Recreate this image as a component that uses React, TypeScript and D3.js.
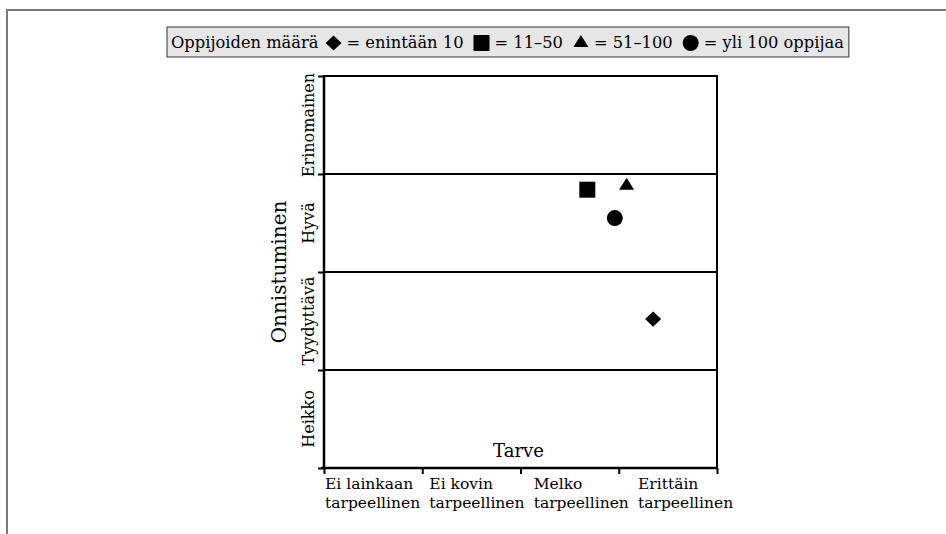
import React, { useEffect, useRef } from "react";
import * as d3 from "d3";

const yCategories = ["Heikko", "Tyydyttävä", "Hyvä", "Erinomainen"];
const xCategoriesLine1 = ["Ei lainkaan", "Ei kovin", "Melko", "Erittäin"];
const xCategoriesLine2 = ["tarpeellinen", "tarpeellinen", "tarpeellinen", "tarpeellinen"];
const groupNames = ["enintään 10", "11–50", "51–100", "yli 100 oppijaa"];
const groupSymbols = ["diamond", "square", "triangle", "circle"];
const needValues = [3.35, 2.68, 3.08, 2.96];
const successValues = [1.52, 2.84, 2.88, 2.55];
const legendTitle = "Oppijoiden määrä";
const xTitle = "Tarve";
const yTitle = "Onnistuminen";

const W = 946;
const H = 534;
const FONT = "'DejaVu Serif', serif";

function symbolPath(kind: string, size: number): string {
  if (kind === "diamond") {
    const w = size / 2, h = size / 2 * 0.95;
    return `M0,${-h}L${w},0L0,${h}L${-w},0Z`;
  }
  if (kind === "square") {
    const s = size / 2;
    return `M${-s},${-s}H${s}V${s}H${-s}Z`;
  }
  if (kind === "triangle") {
    const w = size * 0.47, h = size * 0.75;
    return `M0,${-h * 2 / 3}L${w},${h / 3}L${-w},${h / 3}Z`;
  }
  return d3.symbol(d3.symbolCircle, Math.PI * (size / 2) * (size / 2))() as string;
}

export default function App() {
  const ref = useRef<SVGSVGElement | null>(null);

  useEffect(() => {
    const svg = d3.select(ref.current);
    svg.selectAll("*").remove();

    // outer frame
    svg.append("path").attr("d", `M7,${H}V10H${W}`).attr("fill", "none").attr("stroke", "#7a7a7a").attr("stroke-width", 2);

    const x = d3.scaleLinear().domain([0, 4]).range([324, 717]);
    const y = d3.scaleLinear().domain([0, 4]).range([468, 76]);
    const labelX = d3.scalePoint<string>().domain(xCategoriesLine1).range([325, 638]);

    const g = svg.append("g");

    // horizontal lines
    d3.range(1, 5).forEach((v) => {
      g.append("line").attr("x1", x(0)).attr("x2", x(4)).attr("y1", y(v)).attr("y2", y(v))
        .attr("stroke", "#000").attr("stroke-width", 2);
    });
    // right border
    g.append("line").attr("x1", x(4)).attr("x2", x(4)).attr("y1", y(4) - 1).attr("y2", y(0))
      .attr("stroke", "#000").attr("stroke-width", 2);

    // y axis
    const yAxis = d3.axisLeft(y).tickValues([0, 1, 2, 3, 4]).tickSize(6).tickFormat(() => "");
    const ya = g.append("g").attr("transform", `translate(${x(0)},0)`).call(yAxis);
    ya.select(".domain").attr("d", `M0,${y(4) - 1}V${y(0) + 1}`).attr("stroke-width", 2.5);
    ya.selectAll(".tick line").attr("stroke-width", 2);

    // x axis
    const xAxis = d3.axisBottom(x).tickValues([0, 1, 2, 3, 4]).tickSize(6).tickFormat(() => "");
    const xa = g.append("g").attr("transform", `translate(0,${y(0)})`).call(xAxis);
    xa.select(".domain").attr("d", `M${x(0) - 3},0H${x(4) + 1}`).attr("stroke-width", 2.5);
    xa.selectAll(".tick line").attr("stroke-width", 2);

    // y category labels
    yCategories.forEach((c, i) => {
      g.append("text")
        .attr("transform", `translate(314,${y(i + 0.5)}) rotate(-90)`)
        .attr("text-anchor", "middle").attr("font-family", FONT).attr("font-size", 16)
        .attr("fill", "#000").text(c);
    });
    g.append("text")
      .attr("transform", `translate(286,${y(2)}) rotate(-90)`)
      .attr("text-anchor", "middle").attr("font-family", FONT).attr("font-size", 20)
      .attr("fill", "#000").text(yTitle);

    // x category labels
    xCategoriesLine1.forEach((c, i) => {
      const t = g.append("text").attr("font-family", FONT).attr("font-size", 15.5).attr("fill", "#000");
      t.append("tspan").attr("x", labelX(c)!).attr("y", 489).text(c);
      t.append("tspan").attr("x", labelX(c)!).attr("y", 508).text(xCategoriesLine2[i]);
    });
    g.append("text").attr("x", (x(0) + x(4)) / 2 - 2).attr("y", 457).attr("text-anchor", "middle")
      .attr("font-family", FONT).attr("font-size", 18).attr("fill", "#000").text(xTitle);

    // points
    groupSymbols.forEach((s, i) => {
      g.append("path").attr("d", symbolPath(s, 16))
        .attr("transform", `translate(${x(needValues[i])},${y(successValues[i])})`)
        .attr("fill", "#000");
    });

    // legend
    const lg = svg.append("g");
    const rect = lg.append("rect").attr("x", 167).attr("y", 27).attr("height", 30)
      .attr("fill", "#e6e6e6").attr("stroke", "#333").attr("stroke-width", 1);
    let cx = 171;
    const base = 48;
    const addText = (s: string) => {
      const t = lg.append("text").attr("x", cx).attr("y", base).attr("font-family", FONT)
        .attr("font-size", 16.3).attr("fill", "#000").text(s);
      cx += (t.node() as SVGTextElement).getComputedTextLength();
    };
    addText(legendTitle);
    groupSymbols.forEach((s, i) => {
      cx += i === 0 ? 7 : 10;
      lg.append("path").attr("d", symbolPath(s, 16)).attr("transform", `translate(${cx + 8},${base - 5})`).attr("fill", "#000");
      cx += 16 + 5;
      addText("= " + groupNames[i]);
    });
    rect.attr("width", cx + 5 - 167);
  }, []);

  return (
    <svg ref={ref} width={W} height={H} style={{ position: "absolute", left: 0, top: 0, background: "#fff" }} />
  );
}
